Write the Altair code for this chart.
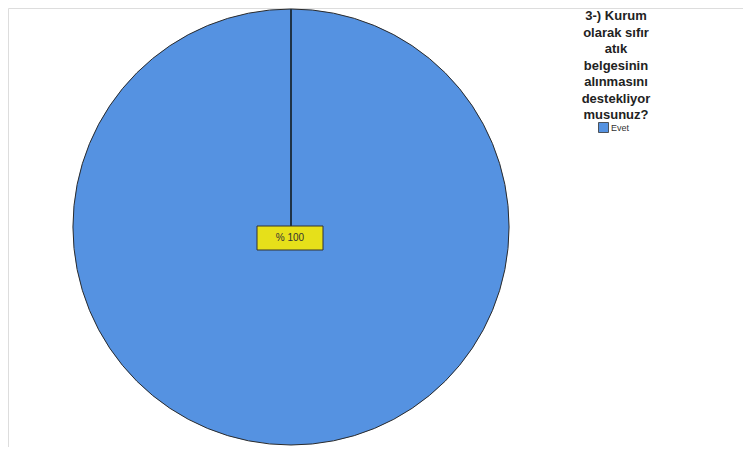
import altair as alt
import pandas as pd

categories = ["Evet"]
values = [100]
labels = ["% 100"]
question = ["3-) Kurum", "olarak sıfır", "atık", "belgesinin", "alınmasını", "destekliyor", "musunuz?"]

df = pd.DataFrame({"cevap": categories, "deger": values, "etiket": labels})
title_df = pd.DataFrame({"t": ["\n".join(question)]})

CX, CY, R = 283, 219, 218

color = alt.Color(
    "cevap:N",
    scale=alt.Scale(domain=categories, range=["#5592E1"]),
    legend=alt.Legend(
        title=None, orient="none", legendX=590, legendY=114,
        symbolType="square", symbolSize=100, symbolStrokeColor="#333",
        symbolStrokeWidth=0.8, symbolOpacity=1, labelFontSize=9,
        labelColor="#333", labelFont="Liberation Sans", padding=0, labelOffset=2,
    ),
)

pie = alt.Chart(df).mark_arc(outerRadius=R, stroke="#2b2b2b", strokeWidth=1).encode(
    theta=alt.Theta("deger:Q", stack=True),
    color=color,
    x=alt.value(CX), y=alt.value(CY),
)

rule = alt.Chart(df).mark_rule(color="#1f3347", strokeWidth=2).encode(
    x=alt.value(CX), y=alt.value(CY - R), y2=alt.value(CY)
)

box = alt.Chart(df).mark_rect(fill="#E6E01A", stroke="#333", strokeWidth=1).encode(
    x=alt.value(249), x2=alt.value(315), y=alt.value(218), y2=alt.value(242)
)

txt = alt.Chart(df).mark_text(font="Liberation Sans", fontSize=10, color="#333").encode(
    text="etiket:N", x=alt.value(282), y=alt.value(230)
)

title = alt.Chart(title_df).mark_text(
    font="Liberation Sans", fontSize=13, fontWeight="bold", color="#222",
    lineBreak="\n", lineHeight=16.5, baseline="top", align="center",
).encode(text="t:N", x=alt.value(608), y=alt.value(2))

chart = alt.layer(pie, rule, box, txt, title).properties(
    width=735, height=439, padding=0, autosize="none"
).configure_view(stroke=None).configure(background="white")

chart.save("out.html", embed_options={"renderer": "svg", "actions": False})
